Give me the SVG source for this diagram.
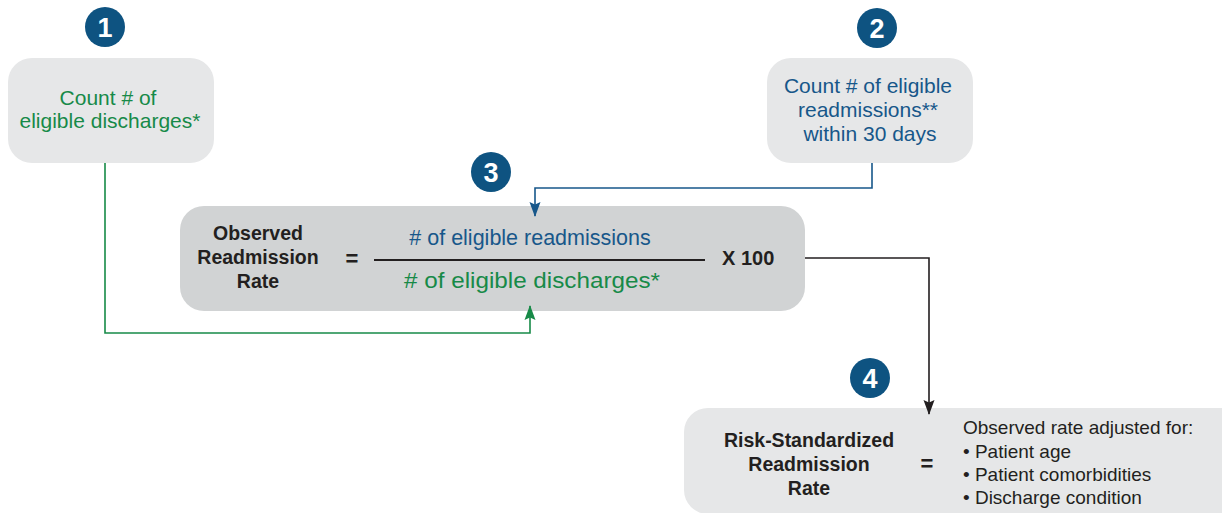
<svg xmlns="http://www.w3.org/2000/svg" width="1222" height="513" viewBox="0 0 1222 513">
<style>
.t{font-family:"Liberation Sans",Arial,sans-serif}
.g{fill:#178a48}
.b{fill:#17578a}
.k{fill:#231f20}
.bd{font-weight:bold}
.num{font-family:"Liberation Sans",Arial,sans-serif;font-weight:bold;font-size:27px;fill:#fff;text-anchor:middle}
.badge{fill:#0e5381}
.light{fill:#e6e7e8}
.dark{fill:#d1d3d4}
.c{fill:none;stroke-width:1.6}
</style>
<defs>
<marker id="ag" viewBox="0 0 11 15" refX="5.5" refY="14" markerWidth="11" markerHeight="15" markerUnits="userSpaceOnUse" overflow="visible">
<path d="M0,0 L5.5,2.5 L11,0 L5.5,15 Z" fill="#178a48"/>
</marker>
<marker id="ab" viewBox="0 0 11 15" refX="5.5" refY="14" markerWidth="11" markerHeight="15" markerUnits="userSpaceOnUse" overflow="visible">
<path d="M0,0 L5.5,2.5 L11,0 L5.5,15 Z" fill="#17578a"/>
</marker>
<marker id="ak" viewBox="0 0 11 15" refX="5.5" refY="14" markerWidth="11" markerHeight="15" markerUnits="userSpaceOnUse" overflow="visible">
<path d="M0,0 L5.5,2.5 L11,0 L5.5,15 Z" fill="#231f20"/>
</marker>
<marker id="agu" viewBox="0 0 11 15" refX="5.5" refY="1" markerWidth="11" markerHeight="15" markerUnits="userSpaceOnUse" overflow="visible">
<path d="M0,15 L5.5,12.5 L11,15 L5.5,0 Z" fill="#178a48"/>
</marker>
</defs>
<rect width="1222" height="513" fill="#fff"/>

<g id="node1">
<rect class="light" x="8" y="58" width="206" height="105" rx="24"/>
<circle class="badge" cx="105" cy="27" r="20"/>
<text class="num" x="105" y="37">1</text>
<text class="t g" font-size="21" text-anchor="middle" x="108" y="105">Count # of</text>
<text class="t g" font-size="21" text-anchor="middle" x="110" y="128">eligible discharges*</text>
</g>

<g id="node2">
<rect class="light" x="767" y="58" width="206" height="105" rx="24"/>
<circle class="badge" cx="877" cy="28" r="20"/>
<text class="num" x="877" y="38">2</text>
<text class="t b" font-size="21" text-anchor="middle" x="868" y="93">Count # of eligible</text>
<text class="t b" font-size="21" text-anchor="middle" x="868" y="117">readmissions**</text>
<text class="t b" font-size="21" text-anchor="middle" x="870" y="141">within 30 days</text>
</g>

<g id="node3">
<rect class="dark" x="180" y="206" width="625" height="105" rx="24"/>
<circle class="badge" cx="491" cy="172" r="20"/>
<text class="num" x="491" y="182">3</text>
<text class="t k bd" font-size="19.5" text-anchor="middle" x="258" y="240">Observed</text>
<text class="t k bd" font-size="19.5" text-anchor="middle" x="258" y="264">Readmission</text>
<text class="t k bd" font-size="19.5" text-anchor="middle" x="258" y="288">Rate</text>
<text class="t k bd" font-size="22" text-anchor="middle" x="352" y="266">=</text>
<text class="t b" font-size="21.5" text-anchor="middle" x="530" y="245"># of eligible readmissions</text>
<line x1="374" y1="260" x2="705" y2="260" stroke="#231f20" stroke-width="1.8"/>
<text class="t g" font-size="22" text-anchor="middle" x="532" y="288" textLength="256" lengthAdjust="spacingAndGlyphs"># of eligible discharges*</text>
<text class="t k bd" font-size="20" x="722" y="265">X 100</text>
</g>

<g id="node4">
<rect class="light" x="684" y="408" width="560" height="106" rx="24"/>
<circle class="badge" cx="870" cy="378" r="20"/>
<text class="num" x="870" y="388">4</text>
<text class="t k bd" font-size="19.5" text-anchor="middle" x="809" y="447">Risk-Standardized</text>
<text class="t k bd" font-size="19.5" text-anchor="middle" x="809" y="471">Readmission</text>
<text class="t k bd" font-size="19.5" text-anchor="middle" x="809" y="495">Rate</text>
<text class="t k bd" font-size="22" text-anchor="middle" x="927" y="471">=</text>
<text class="t k" font-size="19" x="963" y="434">Observed rate adjusted for:</text>
<text class="t k" font-size="19" x="963" y="458">• Patient age</text>
<text class="t k" font-size="19" x="963" y="481">• Patient comorbidities</text>
<text class="t k" font-size="19" x="963" y="504">• Discharge condition</text>
</g>

<g id="connectors">
<polyline class="c" stroke="#178a48" points="105,163 105,333 530,333 530,306" marker-end="url(#agu)"/>
<polyline class="c" stroke="#17578a" points="872,163 872,188 535,188 535,216" marker-end="url(#ab)"/>
<polyline class="c" stroke="#231f20" points="805,258 929,258 929,414" marker-end="url(#ak)"/>
</g>
</svg>
